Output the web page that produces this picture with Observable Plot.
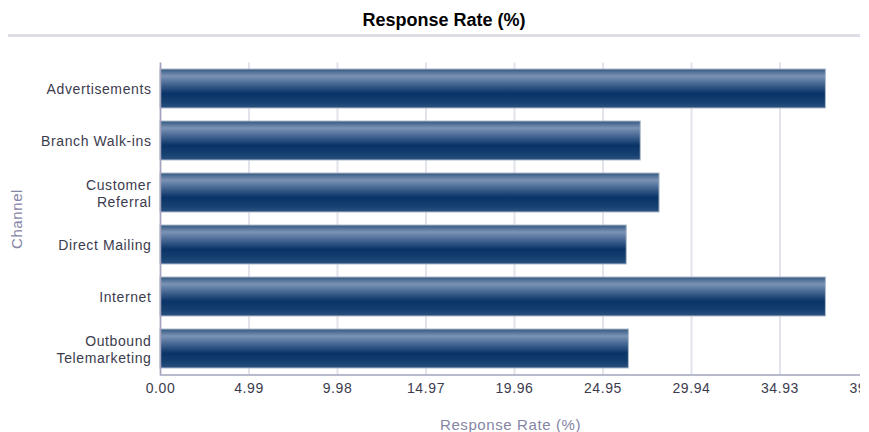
<!DOCTYPE html>
<html>
<head>
<meta charset="utf-8">
<script src="https://cdn.jsdelivr.net/npm/d3@7"></script>
<script src="https://cdn.jsdelivr.net/npm/@observablehq/plot@0.6"></script>
<style>
  html, body { margin: 0; padding: 0; background: #fff; }
  body { width: 869px; height: 432px; overflow: hidden; font-family: "Liberation Sans", Arial, sans-serif; }
  #title { height: 24px; padding-top: 10px; padding-left: 19px; line-height: 20px; text-align: center; font-weight: bold; font-size: 18px; color: #000; }
  #rule { margin-left: 8px; width: 852px; height: 3px; background: #dddde6; }
  #chart { width: 860px; overflow: hidden; }
  #chart svg { overflow: hidden; }
  #chart text { letter-spacing: 0.6px; font-family: "Liberation Sans", Arial, sans-serif; }
  g[aria-label="y-axis tick label"] text, g[aria-label="x-axis tick label"] text { fill: #3c3c4e; }
  g[aria-label="x-axis label"] text { fill: #8585a6; font-size: 15px; letter-spacing: 1.2px; }
  g[aria-label="y-axis label"] text { fill: #8585a6; font-size: 15px; letter-spacing: 0.5px; }
</style>
</head>
<body>
<div id="title">Response Rate (%)</div>
<div id="rule"></div>
<div id="chart"></div>
<script>
const channels = ["Advertisements", "Branch Walk-ins", "Customer\nReferral", "Direct Mailing", "Internet", "Outbound\nTelemarketing"];
const responseRates = [37.52, 27.08, 28.14, 26.29, 37.52, 26.41];
const xTicks = [0, 4.99, 9.98, 14.97, 19.96, 24.95, 29.94, 34.93, 39.92];
const xMax = 39.47;

const data = channels.map((c, i) => ({channel: c, rate: responseRates[i]}));

const gradientStops = [
  [0, "#34577f"], [0.18, "#7b93b5"], [0.4, "#41638f"],
  [0.62, "#0a3468"], [0.85, "#15406f"], [1, "#2c5181"]
];

const defsMark = () => {
  const defs = d3.create("svg:defs");
  const g = defs.append("linearGradient").attr("id", "barGrad")
    .attr("x1", 0).attr("x2", 0).attr("y1", 0).attr("y2", 1);
  gradientStops.forEach(([o, c]) => g.append("stop").attr("offset", o).attr("stop-color", c));
  return defs.node();
};

const chart = Plot.plot({
  width: 860,
  height: 395,
  marginTop: 25.5,
  marginBottom: 57.5,
  marginLeft: 160,
  marginRight: 0,
  style: {fontFamily: "Liberation Sans, Arial, sans-serif", background: "#fff"},
  x: {domain: [0, xMax]},
  y: {domain: channels, paddingInner: 0.25, paddingOuter: 0.125},
  marks: [
    defsMark,
    Plot.gridX(xTicks, {stroke: "#e3e3eb", strokeOpacity: 1, strokeWidth: 2}),
    Plot.barX(data, {x: "rate", y: "channel", fill: "url(#barGrad)", stroke: "#aebbcc", strokeWidth: 1}),
    Plot.ruleX([0], {stroke: "#a3a3bd", strokeWidth: 1.5}),
    Plot.frame({anchor: "bottom", stroke: "#a3a3bd", strokeWidth: 1.5}),
    Plot.axisX(xTicks, {
      tickSize: 0, tickPadding: 8, fontSize: 14,
      tickFormat: d => d.toFixed(2),
      label: "Response Rate (%)", labelAnchor: "center", labelArrow: "none", labelOffset: 55
    }),
    Plot.axisY({
      tickSize: 0, tickPadding: 9, fontSize: 14, lineHeight: 1.2,
      label: "Channel", labelAnchor: "center", labelArrow: "none", labelOffset: 149
    })
  ]
});
document.getElementById("chart").appendChild(chart);
</script>
</body>
</html>
